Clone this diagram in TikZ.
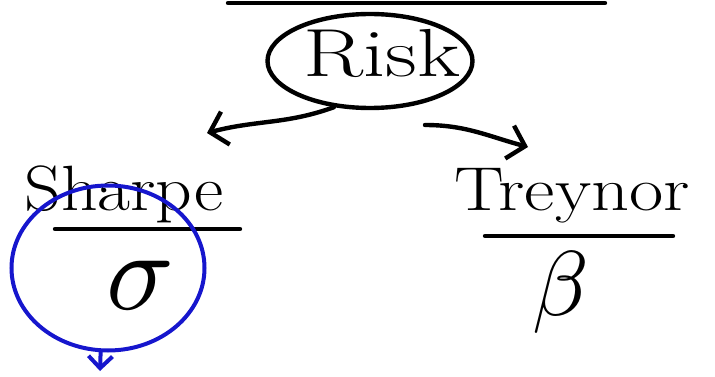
\documentclass[tikz,border=0pt]{standalone}
\usepackage{fontspec}
\usepackage{unicode-math}
\usetikzlibrary{shapes.geometric,arrows.meta}
\definecolor{penblue}{RGB}{22,22,205}
\begin{document}
\begin{tikzpicture}[x=1pt,y=-1pt,
  ink/.style={line width=4.4pt, line cap=round, line join=round, black},
  blueink/.style={line width=4pt, line cap=round, line join=round, penblue},
  tip/.style={-{Straight Barb[length=16pt,width=34pt,line width=4.4pt]}},
  bluetip/.style={-{Straight Barb[length=12pt,width=24pt,line width=4pt]}},
  word/.style={inner sep=0pt, font=\fontsize{62}{70}\selectfont},
  greek/.style={inner sep=0pt},
  oval/.style={ellipse, draw, line width=4.4pt, inner sep=0pt},
  blueoval/.style={ellipse, draw=penblue, line width=4pt, inner sep=0pt}]
\useasboundingbox (0,0) rectangle (715,377);
% top rule
\coordinate (topL) at (228,3);
\coordinate (topR) at (605,3);
\draw[ink] (topL) -- (topR);
% Risk
\node[oval, minimum width=205pt, minimum height=94pt] (risk) at (370,61) {};
\node[word, anchor=base, xscale=1.3, font=\fontsize{68}{70}\selectfont] (risktext) at (382,77) {Risk};
% Sharpe
\node[word, anchor=base, xscale=1.12, font=\fontsize{64}{70}\selectfont] (sharpe) at (124,210) {Sharpe};
\coordinate (shL) at (55,229);
\coordinate (shR) at (240,229);
\draw[ink] (shL) -- (shR);
% Treynor
\node[word, anchor=base, xscale=1.2] (treynor) at (572,210) {Treynor};
\coordinate (trL) at (485,236);
\coordinate (trR) at (673,236);
\draw[ink] (trL) -- (trR);
% arrows
\coordinate (ltip) at (207,133);
\draw[ink,tip] (risk.232) to[out=200,in=15] (ltip);
\coordinate (rstart) at (425,125);
\coordinate (rtip) at (528,147);
\draw[ink,tip] (rstart) to[out=0,in=165] (rtip);
% sigma and beta
\node[greek, font=\fontsize{112}{112}\selectfont] (sigma) at (140,286) {$\sigma$};
\node[greek, font=\fontsize{92}{92}\selectfont] (beta) at (560,292) {$\beta$};
% blue circle and arrow
\node[blueoval, minimum width=193pt, minimum height=165pt] (circ) at (108,268) {};
\coordinate (bdown) at (100,371);
\draw[blueink,bluetip] (circ.265) -- (bdown);
\end{tikzpicture}
\end{document}
